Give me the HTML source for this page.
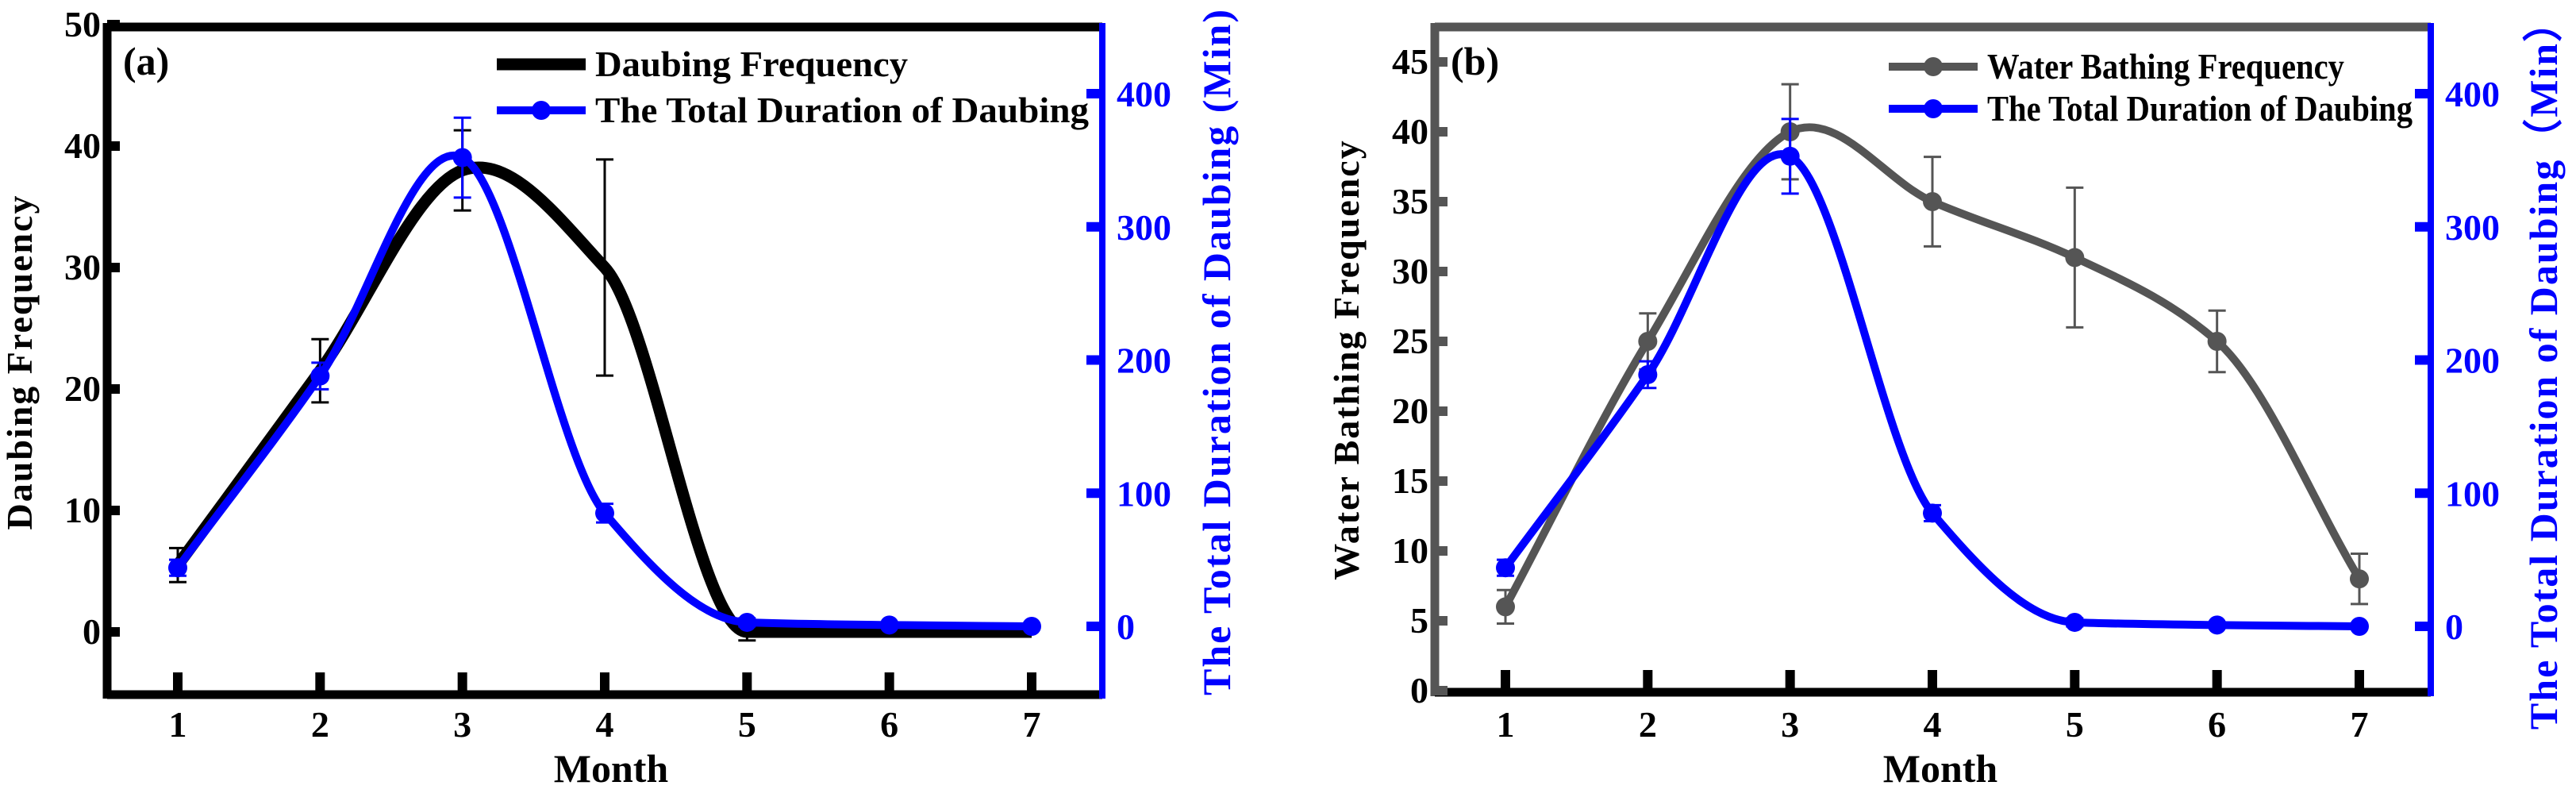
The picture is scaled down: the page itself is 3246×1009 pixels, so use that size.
<!DOCTYPE html>
<html><head><meta charset="utf-8"><style>
html,body{margin:0;padding:0;background:#fff;}
svg{display:block;}
text{font-family:"Liberation Serif",serif;font-weight:bold;}
</style></head><body>
<svg id="chart" width="3246" height="1009" viewBox="0 0 3246 1009" xmlns="http://www.w3.org/2000/svg"></svg>
<script>
const months = [1,2,3,4,5,6,7];
const daubFreq = [5.5,21.5,38,30,0,0,0];
const daubFreqErr = [1.4,2.6,3.3,8.9,0.7,0,0];
const daubDurA = [44,188,352,85,3,1,0];
const daubDurAErr = [6,10,30,7,3,0,0];
const waterFreq = [6,25,40,35,31,25,8];
const waterFreqErr = [1.2,2,3.4,3.2,5,2.2,1.8];
const daubDurB = [44,189,353,85,3,1,0];
const daubDurBErr = [6,10,28,6,3,0,0];
const leftTicksA = [0,10,20,30,40,50];
const leftTicksB = [0,5,10,15,20,25,30,35,40,45];
const rightTicks = [0,100,200,300,400];

const NS='http://www.w3.org/2000/svg';
const svg=document.getElementById('chart');
function mk(tag,attrs,parent){const e=document.createElementNS(NS,tag);for(const k in attrs)e.setAttribute(k,attrs[k]);(parent||svg).appendChild(e);return e;}
function spline(pts){
  const n=pts.length, d=[], m=[];
  for(let i=0;i<n-1;i++) d.push((pts[i+1][1]-pts[i][1])/(pts[i+1][0]-pts[i][0]));
  for(let i=0;i<n;i++){
    if(i===0){m.push(d[0]);continue;}
    if(i===n-1){m.push(d[n-2]);continue;}
    const a=d[i-1],b=d[i];
    if(Math.abs(a)<1e-9||Math.abs(b)<1e-9) m.push(0);
    else if(a*b<0) m.push((a+b)/2);
    else m.push(2*a*b/(a+b));
  }
  let s='M'+pts[0][0]+','+pts[0][1];
  for(let i=0;i<n-1;i++){
    const h=pts[i+1][0]-pts[i][0];
    s+=' C'+(pts[i][0]+h/3)+','+(pts[i][1]+m[i]*h/3)+' '+(pts[i+1][0]-h/3)+','+(pts[i+1][1]-m[i+1]*h/3)+' '+pts[i+1][0]+','+pts[i+1][1];
  }
  return s;
}
function panel(cfg){
  const g=mk('g',{});
  
  
  const X=m=>cfg.x1+(m-1)*(cfg.x7-cfg.x1)/6;
  const YL=v=>cfg.yl0+(v-cfg.lmin)*(cfg.yl1-cfg.yl0)/(cfg.lmax-cfg.lmin);
  const YR=v=>789+(v-0)*(118-789)/400;
  const top=mk('line',{x1:cfg.left,y1:cfg.top,x2:cfg.right,y2:cfg.top,stroke:cfg.frameCol,'stroke-width':11},g);
  
  const lf=mk('line',{x1:cfg.left,y1:cfg.top-5,x2:cfg.left,y2:cfg.bottom+5,stroke:cfg.frameCol,'stroke-width':11},g);
  
  const bf=mk('line',{x1:cfg.left,y1:cfg.bottom,x2:cfg.right,y2:cfg.bottom,stroke:'#000','stroke-width':11},g);
  
  const rf=mk('line',{x1:cfg.right,y1:cfg.top-5,x2:cfg.right,y2:cfg.bottom+5,stroke:'#0000ff','stroke-width':8},g);
  
  cfg.lticks.forEach(t=>{
    const y=YL(t);
    mk('line',{x1:cfg.left,y1:y,x2:cfg.left+16,y2:y,stroke:cfg.frameCol,'stroke-width':12},g);
    const tx=mk('text',{x:cfg.left-8,y:y+15,'font-size':46,'text-anchor':'end',fill:'#000'},g);
    
    tx.textContent=t;
  });
  rightTicks.forEach(t=>{
    const y=YR(t);
    mk('line',{x1:cfg.right-20,y1:y,x2:cfg.right,y2:y,stroke:'#0000ff','stroke-width':12},g);
    const tx=mk('text',{x:cfg.right+18,y:y+16,'font-size':46,fill:'#0000ff'},g);
    
    tx.textContent=t;
  });
  months.forEach(m=>{
    const x=X(m);
    mk('line',{x1:x,y1:cfg.bottom-28,x2:x,y2:cfg.bottom,stroke:'#000','stroke-width':12},g);
    const tx=mk('text',{x:x,y:928,'font-size':46,'text-anchor':'middle',fill:'#000'},g);
    
    tx.textContent=m;
  });
  function series(vals,errs,Y,col,w,r,nm){
    errs.forEach((e,i)=>{ if(e<=0)return; const x=X(months[i]);
      const eb=mk('path',{d:`M${x},${Y(vals[i]-e)}V${Y(vals[i]+e)}M${x-11},${Y(vals[i]-e)}h22M${x-11},${Y(vals[i]+e)}h22`,stroke:col,'stroke-width':3,fill:'none'},g);
      
    });
    const p=mk('path',{d:spline(vals.map((v,i)=>[X(months[i]),Y(v)])),stroke:col,'stroke-width':w,fill:'none'},g);
    
    if(r>0) vals.forEach((v,i)=>{const c=mk('circle',{cx:X(months[i]),cy:Y(v),r:r,fill:col},g);
      });
  }
  series(cfg.lvals,cfg.lerr,YL,cfg.lcol,cfg.lw,cfg.lr,cfg.lname);
  series(cfg.rvals,cfg.rerr,YR,'#0000ff',10,12,'duration');
  const l1=mk('line',{x1:cfg.legX,y1:cfg.legY1,x2:cfg.legX+112,y2:cfg.legY1,stroke:cfg.lcol,'stroke-width':cfg.lw},g);
  
  mk('circle',{cx:cfg.legX+56,cy:cfg.legY1,r:cfg.lr>0?12:5,fill:cfg.lcol},g);
  const lt1=mk('text',{x:cfg.legX+124,y:cfg.legY1+15,'font-size':46,fill:'#000',textLength:cfg.leg1W,lengthAdjust:'spacingAndGlyphs'},g);
  
  lt1.textContent=cfg.legText;
  const l2=mk('line',{x1:cfg.legX,y1:cfg.legY2,x2:cfg.legX+112,y2:cfg.legY2,stroke:'#0000ff','stroke-width':10},g);
  
  mk('circle',{cx:cfg.legX+56,cy:cfg.legY2,r:12,fill:'#0000ff'},g);
  const lt2=mk('text',{x:cfg.legX+124,y:cfg.legY2+15,'font-size':46,fill:'#000',textLength:cfg.leg2W,lengthAdjust:'spacingAndGlyphs'},g);
  
  lt2.textContent='The Total Duration of Daubing';
  const pl=mk('text',{x:cfg.left+20,y:94,'font-size':50,fill:'#000'},g);
  
  pl.textContent=cfg.label;
  const xt=mk('text',{x:cfg.monthX,y:985,'font-size':50,'text-anchor':'middle',fill:'#000'},g);
  
  xt.textContent='Month';
  const yt=mk('text',{x:0,y:0,'font-size':46,'text-anchor':'middle',fill:'#000','letter-spacing':2,transform:`translate(${cfg.ytX},${cfg.ytY}) rotate(-90)`},g);
  
  yt.textContent=cfg.ytitle;
  const rt=mk('text',{x:0,y:0,'font-size':50,'text-anchor':'middle',fill:'#0000ff','letter-spacing':2,transform:`translate(${cfg.rtX},${cfg.rtY}) rotate(-90)`},g);
  
  rt.textContent=cfg.rtitle;
}
panel({name:'panel-a',left:135,right:1389,top:34,bottom:875,frameCol:'#000',x1:224,x7:1300,
  lmin:0,lmax:50,yl0:796,yl1:31,lticks:leftTicksA,lvals:daubFreq,lerr:daubFreqErr,lcol:'#000',lw:15,lr:0,lname:'daubing-frequency',
  rvals:daubDurA,rerr:daubDurAErr,legX:626,legY1:81,legY2:139,legText:'Daubing Frequency',leg1W:394,leg2W:622,label:'(a)',monthX:770,
  ytX:40,ytY:456,ytitle:'Daubing Frequency',rtX:1550,rtY:443,rtitle:'The Total Duration of Daubing (Min)'});
panel({name:'panel-b',left:1808,right:3063,top:34,bottom:872,frameCol:'#555',x1:1897,x7:2973,
  lmin:0,lmax:45,yl0:870,yl1:78,lticks:leftTicksB,lvals:waterFreq,lerr:waterFreqErr,lcol:'#555',lw:10,lr:12,lname:'water-bathing-frequency',
  rvals:daubDurB,rerr:daubDurBErr,legX:2380,legY1:84,legY2:137,legText:'Water Bathing Frequency',leg1W:450,leg2W:536,label:'(b)',monthX:2445,
  ytX:1712,ytY:453,ytitle:'Water Bathing Frequency',rtX:3222,rtY:460,rtitle:'The Total Duration of Daubing（Min）'});
</script>
</body></html>
